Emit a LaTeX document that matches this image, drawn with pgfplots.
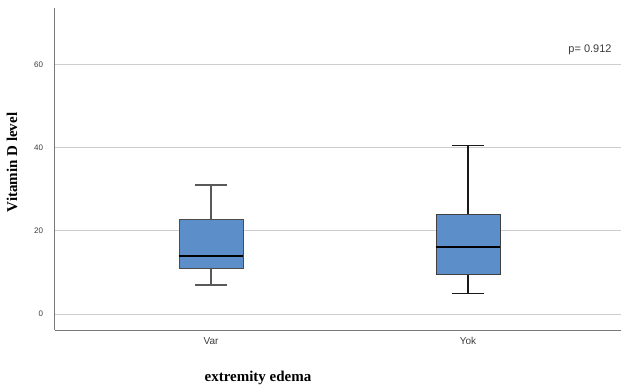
\documentclass[border=0pt]{standalone}
\usepackage{fontspec}
\setmainfont{Liberation Sans}
\newfontfamily\serifb{Liberation Serif}
\usepackage{pgfplots}
\pgfplotsset{compat=1.18}
\usepgfplotslibrary{statistics}
\definecolor{boxblue}{RGB}{92,142,201}
\definecolor{gridgray}{RGB}{205,205,205}
\definecolor{axgray}{RGB}{120,120,120}
\definecolor{txtgray}{RGB}{60,60,60}
\begin{document}
\begin{tikzpicture}
\path[use as bounding box] (0pt,0pt) rectangle (621pt,386pt);
\begin{axis}[
  at={(54.5pt,56pt)}, anchor=south west,
  scale only axis, width=566.5pt, height=322pt,
  xmin=0.391, xmax=2.595,
  ymin=-3.86, ymax=73.7,
  axis x line*=bottom, axis y line*=left,
  axis line style={-, axgray, line width=0.9pt},
  xtick={1,2}, xticklabels={Var,Yok},
  ytick={0,20,40,60},
  ymajorgrids, grid style={gridgray, line width=0.9pt},
  major tick length=0pt,
  /pgf/number format/assume math mode=true,
  yticklabel style={font=\fontsize{8}{9}\selectfont, text=txtgray, xshift=-8pt},
  xticklabel style={font=\fontsize{10}{11}\selectfont, text=txtgray, yshift=-4pt},
  clip=false,
  boxplot/draw direction=y,
]
\addplot+[solid, mark=none, draw=black!65, line width=1.4pt, fill=boxblue,
  boxplot prepared={draw position=1, median=14.05, upper quartile=22.9,
    lower quartile=11.0, upper whisker=31.1, lower whisker=7.0,
    box extend=0.25, whisker extend=0.125},
  boxplot/every median/.style={black, line width=1.8pt},
  boxplot/every box/.style={draw=black!70, line width=0.8pt, fill=boxblue}]
  coordinates {};
\addplot+[solid, mark=none, draw=black!90, line width=1.3pt, fill=boxblue,
  boxplot prepared={draw position=2, median=16.1, upper quartile=23.9,
    lower quartile=9.6, upper whisker=40.6, lower whisker=5.0,
    box extend=0.25, whisker extend=0.125},
  boxplot/every median/.style={black, line width=1.8pt},
  boxplot/every box/.style={draw=black!75, line width=0.8pt, fill=boxblue}]
  coordinates {};
\end{axis}
\node[font=\fontsize{11}{13}\selectfont, text=txtgray] at (590pt,336pt) {p= 0.912};
\node[font=\serifb\bfseries\fontsize{15}{17}\selectfont, rotate=90] at (12pt,223.5pt) {Vitamin D level};
\node[font=\serifb\bfseries\fontsize{15}{17}\selectfont] at (258pt,8pt) {extremity edema};
\end{tikzpicture}
\end{document}
